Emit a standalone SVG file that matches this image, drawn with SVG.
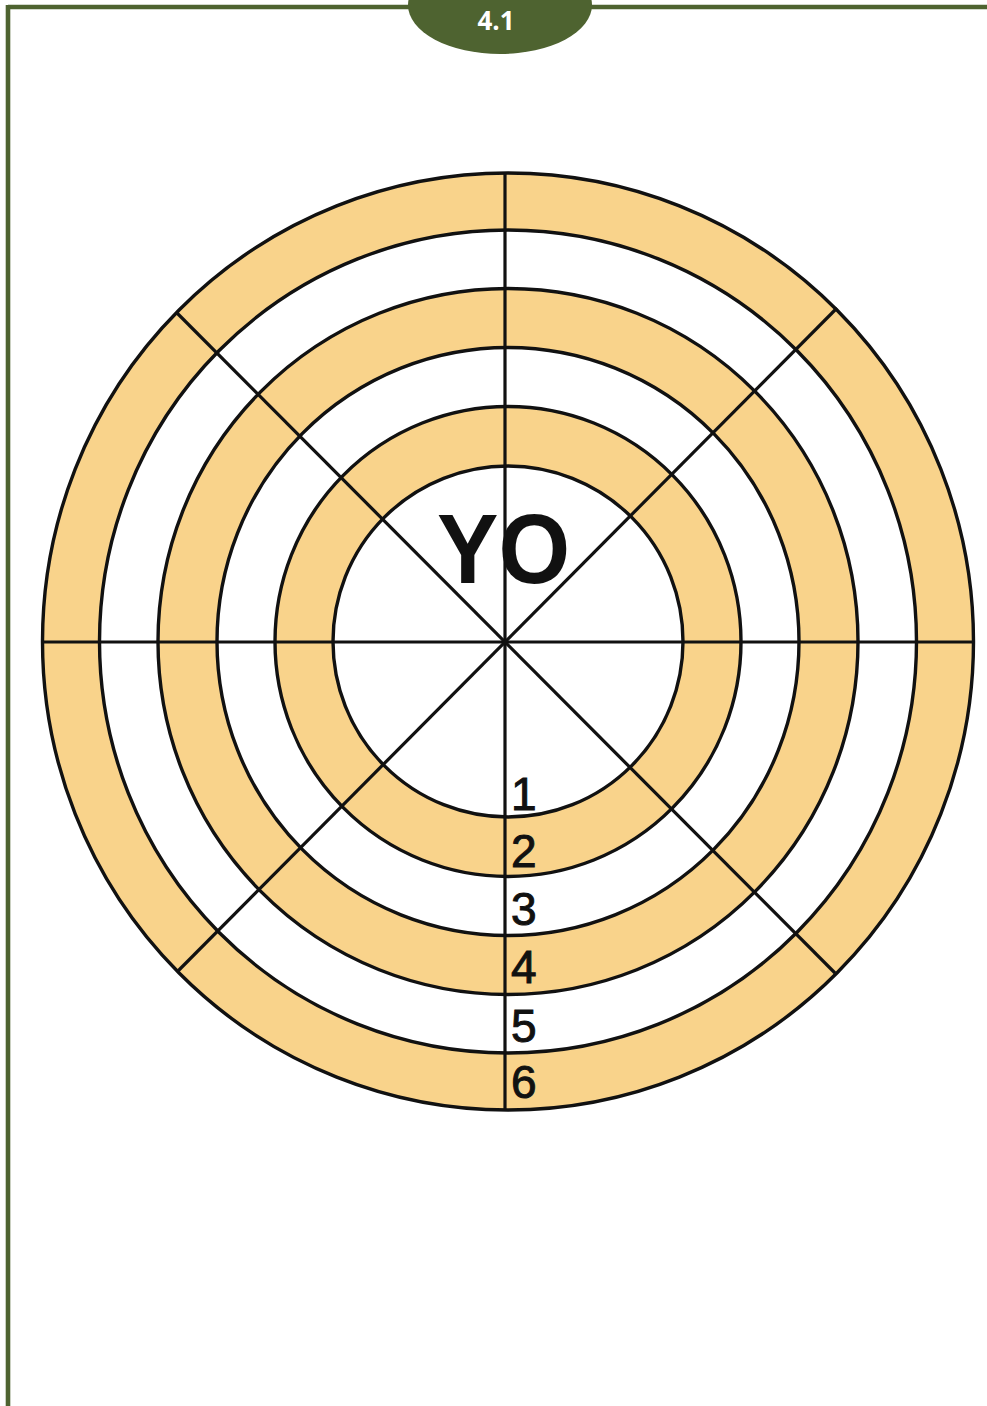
<svg xmlns="http://www.w3.org/2000/svg" width="987" height="1406" viewBox="0 0 987 1406">
  <style>
    .frame { stroke: #4E6330; stroke-width: 4.6; fill: none; }
    .ring { stroke: #111; stroke-width: 3.4; }
    .band { fill: #F9D38B; }
    .gap { fill: #FFFFFF; }
    .spoke { stroke: #111; stroke-width: 3.2; fill: none; }
    .num { font-family: "Liberation Sans", Arial, sans-serif; font-size: 46px; fill: #111; stroke: #111; stroke-width: 1; }
  </style>
  <rect x="0" y="0" width="987" height="1406" fill="#FFFFFF"/>
  <g id="frame">
    <line class="frame" x1="8" y1="7" x2="987" y2="7"/>
    <line class="frame" x1="8" y1="5" x2="8" y2="1406"/>
  </g>
  <g id="tab">
    <ellipse cx="500" cy="5" rx="92" ry="49" fill="#4E6330"/>
    <text x="496" y="30" text-anchor="middle" font-family="'Open Sans', 'Liberation Sans', sans-serif" font-weight="bold" font-size="26" fill="#FFFFFF">4.1</text>
  </g>
  <g id="target">
    <ellipse class="ring band" cx="508" cy="641.5" rx="465.5" ry="468.5"/>
    <ellipse class="ring gap" cx="508" cy="641.5" rx="408.5" ry="411.5"/>
    <ellipse class="ring band" cx="508" cy="641.5" rx="350" ry="353"/>
    <ellipse class="ring gap" cx="508" cy="641.5" rx="291" ry="294"/>
    <ellipse class="ring band" cx="508" cy="641.5" rx="233" ry="235"/>
    <ellipse class="ring gap" cx="508" cy="641.5" rx="175" ry="175.5"/>
  </g>
  <g id="spokes">
    <line class="spoke" x1="505" y1="173" x2="505" y2="1110"/>
    <line class="spoke" x1="43" y1="642" x2="973" y2="642"/>
    <line class="spoke" x1="177" y1="313" x2="835" y2="973"/>
    <line class="spoke" x1="837" y1="308" x2="177" y2="972"/>
  </g>
  <g id="label-yo">
    <text x="437" y="583" font-family="'Liberation Sans', Arial, sans-serif" font-weight="bold" font-size="98" fill="#111" textLength="133" lengthAdjust="spacingAndGlyphs">YO</text>
  </g>
  <g id="ring-numbers">
    <text class="num" x="511" y="810">1</text>
    <text class="num" x="511" y="867">2</text>
    <text class="num" x="511" y="925">3</text>
    <text class="num" x="511" y="983">4</text>
    <text class="num" x="511" y="1042">5</text>
    <text class="num" x="511" y="1098">6</text>
  </g>
</svg>
